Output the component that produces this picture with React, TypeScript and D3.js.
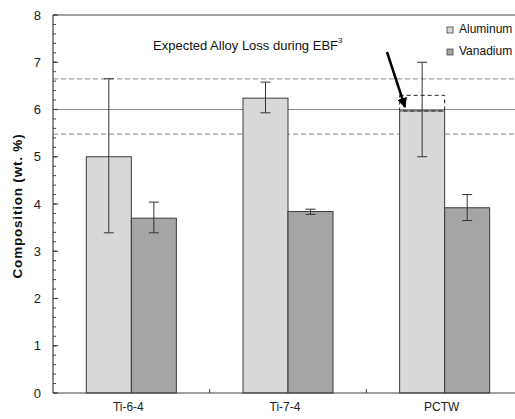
import React from "react";
import * as d3 from "d3";

const categories = ["Ti-6-4", "Ti-7-4", "PCTW"];
const seriesNames = ["Aluminum", "Vanadium"];
const aluminum = [5.0, 6.24, 5.97];
const aluminumLow = [3.39, 5.93, 5.0];
const aluminumHigh = [6.65, 6.58, 7.0];
const vanadium = [3.7, 3.84, 3.92];
const vanadiumLow = [3.39, 3.78, 3.65];
const vanadiumHigh = [4.04, 3.89, 4.2];
const yTicks = [0, 1, 2, 3, 4, 5, 6, 7, 8];
const nominalAl = 6;
const bandLines = [6.65, 5.48];
const expectedTop = 6.3;

const W = 515;
const H = 419;
const left = 53;
const right = 523;
const top = 15;
const bottom = 393;
const colors = ["#d8d8d8", "#a5a5a5"];
const font = "Arial, 'Liberation Sans', sans-serif";

const App = () => {
  const x = d3.scaleBand<string>().domain(categories).range([left, right]).padding(0);
  const inner = d3
    .scaleBand<string>()
    .domain(seriesNames)
    .range([0, x.bandwidth()])
    .paddingInner(0)
    .paddingOuter(0.74);
  const y = d3.scaleLinear().domain([0, 8]).range([bottom, top]);
  const minor = d3.range(0, 8.001, 0.2);

  const series = [
    { name: seriesNames[0], v: aluminum, lo: aluminumLow, hi: aluminumHigh },
    { name: seriesNames[1], v: vanadium, lo: vanadiumLow, hi: vanadiumHigh },
  ];

  const pctwX = (x("PCTW") ?? 0) + (inner("Aluminum") ?? 0);
  const arrowTip: [number, number] = [405, 107];
  const arrowStart: [number, number] = [387, 52];

  return (
    <svg
      width={W}
      height={H}
      style={{ position: "absolute", left: 0, top: 0, background: "#fff" }}
      fontFamily={font}
    >
      <defs>
        <marker id="ah" viewBox="0 0 10 10" refX="9" refY="5" markerWidth="4" markerHeight="4" orient="auto">
          <path d="M0,0 L10,5 L0,10 z" fill="#000" />
        </marker>
        <clipPath id="plot">
          <rect x={left} y={top} width={W - left} height={bottom - top} />
        </clipPath>
      </defs>

      {/* reference lines */}
      <g clipPath="url(#plot)">
        <line x1={left} x2={W} y1={y(nominalAl)} y2={y(nominalAl)} stroke="#8c8c8c" strokeWidth={1} />
        {bandLines.map((b) => (
          <line key={b} x1={left} x2={W} y1={y(b)} y2={y(b)} stroke="#a0a0a0" strokeWidth={1.3} strokeDasharray="5,3" />
        ))}
      </g>

      {/* bars */}
      {series.map((s, si) =>
        categories.map((c, ci) => {
          const bx = (x(c) ?? 0) + (inner(s.name) ?? 0);
          return (
            <rect
              key={s.name + c}
              x={bx}
              y={y(s.v[ci])}
              width={inner.bandwidth()}
              height={bottom - y(s.v[ci])}
              fill={colors[si]}
              stroke="#3a3a3a"
              strokeWidth={1}
            />
          );
        })
      )}

      {/* error bars */}
      {series.map((s) =>
        categories.map((c, ci) => {
          const cx = (x(c) ?? 0) + (inner(s.name) ?? 0) + inner.bandwidth() / 2;
          return (
            <g key={"e" + s.name + c} stroke="#333" strokeWidth={1}>
              <line x1={cx} x2={cx} y1={y(s.hi[ci])} y2={y(s.lo[ci])} />
              <line x1={cx - 5} x2={cx + 5} y1={y(s.hi[ci])} y2={y(s.hi[ci])} />
              <line x1={cx - 5} x2={cx + 5} y1={y(s.lo[ci])} y2={y(s.lo[ci])} />
            </g>
          );
        })
      )}

      {/* expected loss box */}
      <rect
        x={pctwX}
        y={y(expectedTop)}
        width={inner.bandwidth()}
        height={y(aluminum[2]) - y(expectedTop)}
        fill="none"
        stroke="#222"
        strokeWidth={1}
        strokeDasharray="4,3"
      />
      <line
        x1={arrowStart[0]}
        y1={arrowStart[1]}
        x2={arrowTip[0]}
        y2={arrowTip[1]}
        stroke="#000"
        strokeWidth={2.5}
        markerEnd="url(#ah)"
      />
      <text x={153} y={50} fontSize={13} fill="#111">
        Expected Alloy Loss during EBF
        <tspan dy={-7} fontSize={8}>3</tspan>
      </text>

      {/* axes */}
      <line x1={left} x2={W} y1={top} y2={top} stroke="#444" strokeWidth={1} />
      <line x1={left} x2={W} y1={bottom} y2={bottom} stroke="#444" strokeWidth={1.2} />
      <line x1={left} x2={left} y1={top} y2={bottom} stroke="#444" strokeWidth={1.2} />
      {minor.map((t) => (
        <line key={"m" + t} x1={left} x2={left + 3} y1={y(t)} y2={y(t)} stroke="#444" />
      ))}
      {yTicks.map((t) => (
        <g key={"t" + t}>
          <line x1={left} x2={left + 5} y1={y(t)} y2={y(t)} stroke="#444" strokeWidth={1.2} />
          <text x={41} y={y(t)} dy="0.35em" textAnchor="end" fontSize={13} fill="#222">
            {t}
          </text>
        </g>
      ))}
      {categories.slice(1).map((c) => (
        <line key={"ct" + c} x1={x(c)} x2={x(c)} y1={bottom} y2={bottom - 4} stroke="#444" />
      ))}
      {categories.map((c) => (
        <text
          key={"cl" + c}
          x={(x(c) ?? 0) + x.bandwidth() / 2 - 3}
          y={411}
          textAnchor="middle"
          fontSize={12}
          fill="#222"
        >
          {c}
        </text>
      ))}
      <text
        transform={`translate(22,206) rotate(-90)`}
        textAnchor="middle"
        fontSize={13.5}
        letterSpacing={0.8}
        fontWeight="bold"
        fill="#111"
      >
        Composition (wt. %)
      </text>

      {/* legend */}
      {seriesNames.map((n, i) => (
        <g key={"lg" + n} transform={`translate(447,${27 + i * 22})`}>
          <rect x={0} y={0} width={6} height={6} fill={colors[i]} stroke="#444" strokeWidth={0.8} />
          <text x={12} y={6} fontSize={12} fill="#111">
            {n}
          </text>
        </g>
      ))}
    </svg>
  );
};

export default App;
